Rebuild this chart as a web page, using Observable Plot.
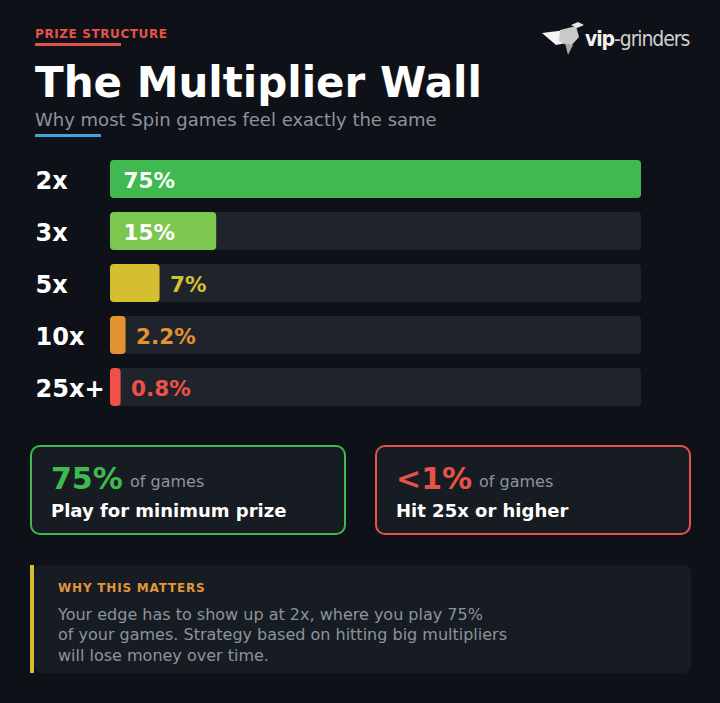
<!DOCTYPE html>
<html>
<head>
<meta charset="utf-8">
<script src="https://cdn.jsdelivr.net/npm/d3@7"></script>
<script src="https://cdn.jsdelivr.net/npm/@observablehq/plot@0.6"></script>
<style>
  html, body { margin: 0; padding: 0; background: #0e1117; }
  body { width: 720px; height: 703px; position: relative; overflow: hidden; font-family: "DejaVu Sans", sans-serif; }
  .abs { position: absolute; line-height: 1; white-space: nowrap; }
  #kicker { left: 35px; top: 27.8px; font-size: 12px; font-weight: bold; letter-spacing: 0.6px; color: #e5534b; }
  #kickerLine { left: 35px; top: 43px; width: 86px; height: 3px; background: #e5534b; }
  #title { left: 35px; top: 61.5px; font-size: 42px; font-weight: bold; color: #ffffff; }
  #subtitle { left: 35px; top: 110.8px; font-size: 18px; color: #8b949e; }
  #subLine { left: 35px; top: 134px; width: 66px; height: 3px; background: #3ea6e0; }
  #logoText { left: 585px; top: 29px; font-family: "DejaVu Sans Condensed", "DejaVu Sans", sans-serif; font-size: 21px; letter-spacing: -1.1px; }
  #logoText .a { color: #f2f2f2; font-weight: bold; }
  #logoText .b { color: #d0d0d0; font-weight: 200; }
  #logo { left: 0; top: 0; }
  #chart { left: 0; top: 153px; }
  .card { position: absolute; box-sizing: border-box; border-radius: 10px; background: #171c23; }
  .big { font-size: 30px; font-weight: bold; }
  .of { font-size: 16px; color: #8b949e; }
  .lead { font-size: 18px; font-weight: bold; color: #ffffff; }
  #why { left: 58px; top: 581.8px; font-size: 12px; font-weight: bold; letter-spacing: 0.8px; color: #e0973a; }
  #body { left: 58px; top: 604.6px; font-size: 16px; line-height: 20.5px; color: #8b949e; }
</style>
</head>
<body>
<div id="kicker" class="abs"></div>
<div id="kickerLine" class="abs"></div>
<div id="title" class="abs"></div>
<div id="subtitle" class="abs"></div>
<div id="subLine" class="abs"></div>
<svg id="logo" class="abs" width="720" height="70">
  <polygon points="542,33 566,30 571,42 556,45" fill="#f4f4f4"/>
  <polygon points="560,30 576,26 579,37 570,47 559,41" fill="#c9c9c9"/>
  <polygon points="571,25 578,22 584,25 577,28" fill="#e6e6e6"/>
  <polygon points="565,43 573,45 568,55" fill="#a9a9a9"/>
</svg>
<div id="logoText" class="abs"><span class="a">vip</span><span class="b">-grinders</span></div>
<div id="chart" class="abs"></div>

<div class="card" style="left:30px; top:445px; width:316px; height:90px; border:2px solid #3fb950;"></div>
<div class="card" style="left:375px; top:445px; width:316px; height:90px; border:2px solid #e5534b;"></div>
<div id="stat1" class="abs big" style="left:51px; top:464px; color:#3fb950;"></div>
<div id="of1" class="abs of" style="left:130px; top:474px;"></div>
<div id="lead1" class="abs lead" style="left:51px; top:501.8px;"></div>
<div id="stat2" class="abs big" style="left:396px; top:464px; color:#e5534b;"></div>
<div id="of2" class="abs of" style="left:479px; top:474px;"></div>
<div id="lead2" class="abs lead" style="left:396px; top:501.8px;"></div>

<div class="abs" style="left:30px; top:565px; width:4px; height:108px; background:#d4bf30;"></div>
<div class="card" style="left:34px; top:565px; width:657px; height:108px; border-radius:8px;"></div>
<div id="why" class="abs"></div>
<div id="body" class="abs"></div>

<script>
// ---- text content ----
const kicker = "PRIZE STRUCTURE";
const title = "The Multiplier Wall";
const subtitle = "Why most Spin games feel exactly the same";
const statValues = ["75%", "<1%"];
const statUnits = ["of games", "of games"];
const statLeads = ["Play for minimum prize", "Hit 25x or higher"];
const noteTitle = "WHY THIS MATTERS";
const noteLines = [
  "Your edge has to show up at 2x, where you play 75%",
  "of your games. Strategy based on hitting big multipliers",
  "will lose money over time."
];

// ---- chart data ----
const categories = ["2x", "3x", "5x", "10x", "25x+"];
const shares = [75, 15, 7, 2.2, 0.8];
const shareLabels = ["75%", "15%", "7%", "2.2%", "0.8%"];
const barColors = ["#3fb950", "#7cc74f", "#d4bf30", "#e3922f", "#f0504a"];
const trackColor = "#1f242c";
const minShown = 1.5; // smallest visible bar length, in %

document.getElementById("kicker").textContent = kicker;
document.getElementById("title").textContent = title;
document.getElementById("subtitle").textContent = subtitle;
document.getElementById("stat1").textContent = statValues[0];
document.getElementById("stat2").textContent = statValues[1];
document.getElementById("of1").textContent = statUnits[0];
document.getElementById("of2").textContent = statUnits[1];
document.getElementById("lead1").textContent = statLeads[0];
document.getElementById("lead2").textContent = statLeads[1];
document.getElementById("why").textContent = noteTitle;
const bodyEl = document.getElementById("body");
noteLines.forEach((l, i) => {
  if (i) bodyEl.appendChild(document.createElement("br"));
  bodyEl.appendChild(document.createTextNode(l));
});

const rows = categories.map((c, i) => ({
  cat: c, v: shares[i], label: shareLabels[i], color: barColors[i], shown: Math.max(shares[i], minShown)
}));
const xMax = d3.max(shares);

const chart = Plot.plot({
  width: 720,
  height: 260,
  marginLeft: 110,
  marginRight: 79,
  marginTop: 0,
  marginBottom: 0,
  style: { background: "transparent", color: "#ffffff", fontFamily: "DejaVu Sans, sans-serif" },
  x: { domain: [0, xMax], axis: null },
  y: { domain: categories, paddingInner: 0.27, paddingOuter: 0.135, label: null, axis: null },
  color: { type: "identity" },
  marks: [
    Plot.barX(rows, { y: "cat", x1: 0, x2: xMax, fill: trackColor, rx: 4 }),
    Plot.barX(rows, { y: "cat", x1: 0, x2: "shown", fill: "color", rx: 4 }),
    Plot.text(rows.filter(d => d.v >= 10), {
      y: "cat", x: 0, dx: 13, dy: 2, text: "label", textAnchor: "start",
      fill: "#ffffff", fontSize: 21.5, fontWeight: "bold"
    }),
    Plot.text(rows.filter(d => d.v < 10), {
      y: "cat", x: "shown", dx: 10, dy: 2, text: "label", textAnchor: "start",
      fill: "color", fontSize: 21.5, fontWeight: "bold"
    }),
    Plot.axisY({
      tickSize: 0, tickPadding: 0, textAnchor: "start", dx: -75, dy: 2,
      fontSize: 24, fontWeight: "bold", fill: "#ffffff", label: null
    })
  ]
});
document.getElementById("chart").appendChild(chart);
</script>
</body>
</html>
